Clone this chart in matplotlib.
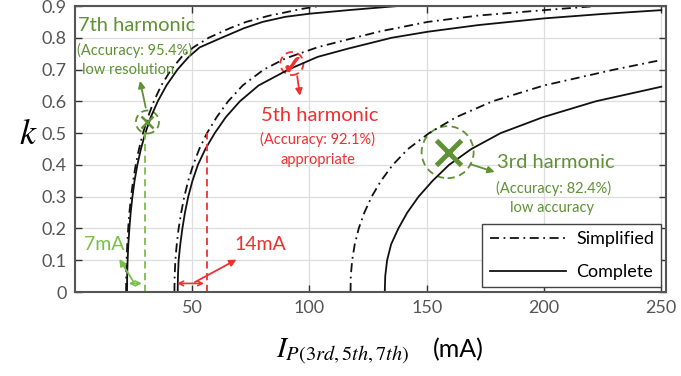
import matplotlib
matplotlib.use("Agg")
import matplotlib.pyplot as plt
from matplotlib.patches import Ellipse

plt.rcParams['font.family'] = ['Lato', 'DejaVu Sans']
plt.rcParams['mathtext.fontset'] = 'stix'

# curves: current I (mA) vs k
sim7_I = [21.8, 21.85, 22.0, 22.3, 22.7, 23.2, 23.9, 24.8, 25.9, 27.3, 29.0, 31.1, 33.6, 36.8, 41.0,
          45.5, 50.5, 57.0, 66.0, 73.0, 83.0, 89.7, 96.0, 104.0]
sim7_k = [0.0, 0.05, 0.1, 0.15, 0.2, 0.25, 0.3, 0.35, 0.4, 0.45, 0.5, 0.55, 0.6, 0.65, 0.7,
          0.74, 0.77, 0.8, 0.83, 0.85, 0.87, 0.88, 0.89, 0.9]
com7_I = [22.2, 22.25, 22.45, 22.75, 23.2, 23.75, 24.5, 25.4, 26.6, 28.1, 30.0, 32.3, 35.3, 39.0, 43.7,
          48.5, 53.2, 62.5, 72.0, 80.0, 89.7, 100.3, 116.5, 137.7]
com7_k = [0.0, 0.05, 0.1, 0.15, 0.2, 0.25, 0.3, 0.35, 0.4, 0.45, 0.5, 0.55, 0.6, 0.65, 0.7,
          0.74, 0.77, 0.8, 0.83, 0.85, 0.866, 0.876, 0.887, 0.9]

sim5_I = [42.4, 42.5, 42.8, 43.4, 44.2, 45.3, 46.6, 48.3, 50.4, 53.0, 56.3, 60.4, 65.3, 71.5, 80.5,
          89.7, 103.8, 116.5, 130.0, 150.4, 172.0, 200.0, 222.5]
sim5_k = [0.0, 0.05, 0.1, 0.15, 0.2, 0.25, 0.3, 0.35, 0.4, 0.45, 0.5, 0.55, 0.6, 0.65, 0.7,
          0.735, 0.771, 0.795, 0.82, 0.85, 0.87, 0.887, 0.9]
com5_I = [43.8, 43.9, 44.2, 44.9, 45.8, 46.9, 48.3, 50.1, 52.4, 55.6, 59.6, 64.3, 70.3, 78.3, 91.0,
          103.5, 116.5, 135.0, 150.4, 172.0, 200.0, 225.0, 250.0]
com5_k = [0.0, 0.05, 0.1, 0.15, 0.2, 0.25, 0.3, 0.35, 0.4, 0.45, 0.5, 0.55, 0.6, 0.65, 0.7,
          0.74, 0.766, 0.8, 0.819, 0.84, 0.861, 0.875, 0.887]

sim3_I = [117.5, 117.6, 118.2, 119.3, 121.0, 123.4, 126.5, 130.5, 135.5, 142.0, 151.0, 162.5, 178.0,
          200.0, 230.0, 250.0]
sim3_k = [0.0, 0.05, 0.1, 0.15, 0.2, 0.25, 0.3, 0.35, 0.4, 0.45, 0.5, 0.55, 0.6,
          0.65, 0.7, 0.73]
com3_I = [132.1, 132.3, 133.1, 134.8, 137.9, 141.7, 146.5, 152.5, 159.5, 169.0, 181.5, 199.5, 222.0, 250.0]
com3_k = [0.0, 0.05, 0.1, 0.15, 0.2, 0.25, 0.3, 0.35, 0.4, 0.45, 0.5, 0.55, 0.6, 0.646]

x_ticks = [50, 100, 150, 200, 250]
y_ticks = [0, 0.1, 0.2, 0.3, 0.4, 0.5, 0.6, 0.7, 0.8, 0.9]
y_labels = ['0', '0.1', '0.2', '0.3', '0.4', '0.5', '0.6', '0.7', '0.8', '0.9']

GREEN = '#5e9234'
LGREEN = '#78bf48'
RED = '#f03030'
DASHDOT = (0, (5, 2.5, 1, 2.5))

fig = plt.figure(figsize=(6.81, 3.76), dpi=100)
ax = fig.add_axes([0.1101, 0.2234, 0.8678, 0.7606])

for I, k in [(sim7_I, sim7_k), (sim5_I, sim5_k), (sim3_I, sim3_k)]:
    ax.plot(I, k, color='#111111', lw=1.3, linestyle=DASHDOT)
for I, k in [(com7_I, com7_k), (com5_I, com5_k), (com3_I, com3_k)]:
    ax.plot(I, k, color='#111111', lw=1.3)

# legend proxies
ax.plot([], [], color='#111111', lw=1.3, linestyle=DASHDOT, label='Simplified')
ax.plot([], [], color='#111111', lw=1.3, label='Complete')

ax.set_xlim(0, 252)
ax.set_ylim(0, 0.9)
ax.set_xticks(x_ticks)
ax.set_yticks(y_ticks)
ax.set_yticklabels(y_labels)
ax.grid(True, color='#dddddd', lw=0.9)
ax.set_axisbelow(True)
ax.tick_params(direction='in', top=True, right=True, length=5, width=1,
               labelsize=13, labelcolor='#555555', color='#333333', pad=6)
for s in ax.spines.values():
    s.set_color('#555555')
    s.set_linewidth(1.5)


def px_circle(xc, yc, r, color):
    # circle of radius r pixels around a data point
    w = 2 * r / (ax.get_position().width * 681) * 252
    h = 2 * r / (ax.get_position().height * 376) * 0.9
    ax.add_patch(Ellipse((xc, yc), w, h, fill=False, ec=color, lw=1.3, ls=(0, (4, 2.5))))


# 7th harmonic
ax.text(26.5, 0.84, '7th harmonic', color=GREEN, fontsize=14.5, ha='center', va='center')
ax.text(25.4, 0.761, '(Accuracy: 95.4%)', color=GREEN, fontsize=10.5, ha='center', va='center')
ax.text(22.5, 0.698, 'low resolution', color=GREEN, fontsize=10.5, ha='center', va='center')
px_circle(30.9, 0.535, 11.5, GREEN)
ax.plot([30.9], [0.535], marker='x', ms=9, mew=1.8, color=GREEN)
ax.annotate('', xy=(27.5, 0.673), xytext=(30.4, 0.572),
            arrowprops=dict(arrowstyle='-|>', color=GREEN, lw=1.3, mutation_scale=10))
ax.plot([29.7, 29.7], [0, 0.51], color=LGREEN, lw=1.3, ls=(0, (4, 2.5)))

# 5th harmonic
ax.text(104.2, 0.557, '5th harmonic', color=RED, fontsize=14.5, ha='center', va='center')
ax.text(103.4, 0.481, '(Accuracy: 92.1%)', color=RED, fontsize=10.5, ha='center', va='center')
ax.text(103.4, 0.415, 'appropriate', color=RED, fontsize=10.5, ha='center', va='center')
px_circle(92.5, 0.719, 11.5, RED)
ax.plot([92.5], [0.719], marker=r'$\checkmark$', ms=10, color=RED)
ax.annotate('', xy=(96.1, 0.609), xytext=(94.6, 0.688),
            arrowprops=dict(arrowstyle='-|>', color=RED, lw=1.3, mutation_scale=10))
ax.plot([56.2, 56.2], [0, 0.50], color=RED, lw=1.3, ls=(0, (4, 2.5)))

# 3rd harmonic
ax.text(205.1, 0.406, '3rd harmonic', color=GREEN, fontsize=14.5, ha='center', va='center')
ax.text(204.0, 0.327, '(Accuracy: 82.4%)', color=GREEN, fontsize=10.5, ha='center', va='center')
ax.text(203.4, 0.264, 'low accuracy', color=GREEN, fontsize=10.5, ha='center', va='center')
px_circle(158.9, 0.44, 26, GREEN)
ax.plot([158.9], [0.44], marker='x', ms=18, mew=3.5, color=GREEN)
ax.annotate('', xy=(180.1, 0.375), xytext=(167.4, 0.405),
            arrowprops=dict(arrowstyle='-|>', color=GREEN, lw=1.3, mutation_scale=10))

# resolution arrows
ax.annotate('', xy=(21.8, 0.027), xytext=(29.7, 0.027),
            arrowprops=dict(arrowstyle='<->', color=LGREEN, lw=1.2, mutation_scale=8))
ax.annotate('', xy=(18.3, 0.111), xytext=(25.4, 0.027),
            arrowprops=dict(arrowstyle='-|>', color=LGREEN, lw=1.3, mutation_scale=10))
ax.text(12.3, 0.148, '7mA', color=LGREEN, fontsize=14, ha='center', va='center')

ax.annotate('', xy=(42.4, 0.027), xytext=(56.2, 0.027),
            arrowprops=dict(arrowstyle='<->', color=RED, lw=1.2, mutation_scale=8))
ax.annotate('', xy=(69.9, 0.106), xytext=(50.1, 0.027),
            arrowprops=dict(arrowstyle='-|>', color=RED, lw=1.3, mutation_scale=10))
ax.text(79.2, 0.148, '14mA', color=RED, fontsize=14, ha='center', va='center')

leg = ax.legend(loc='lower right', fontsize=13, handlelength=4.2, handletextpad=0.6,
                labelspacing=0.95, borderaxespad=0.25, fancybox=False, framealpha=1,
                borderpad=0.4)
leg.get_frame().set_edgecolor('#444444')
leg.get_frame().set_linewidth(1.0)

# axis labels
fig.text(28 / 681, 1 - 133 / 376, r'$k$', fontsize=26, ha='center', va='center')
fig.text(343 / 681, 1 - 352 / 376, r'$I_{P(3rd,5th,7th)}$', fontsize=21, ha='center', va='center')
fig.text(458 / 681, 1 - 350 / 376, '(mA)', fontsize=18, ha='center', va='center')

fig.savefig('out.png', dpi=100)
